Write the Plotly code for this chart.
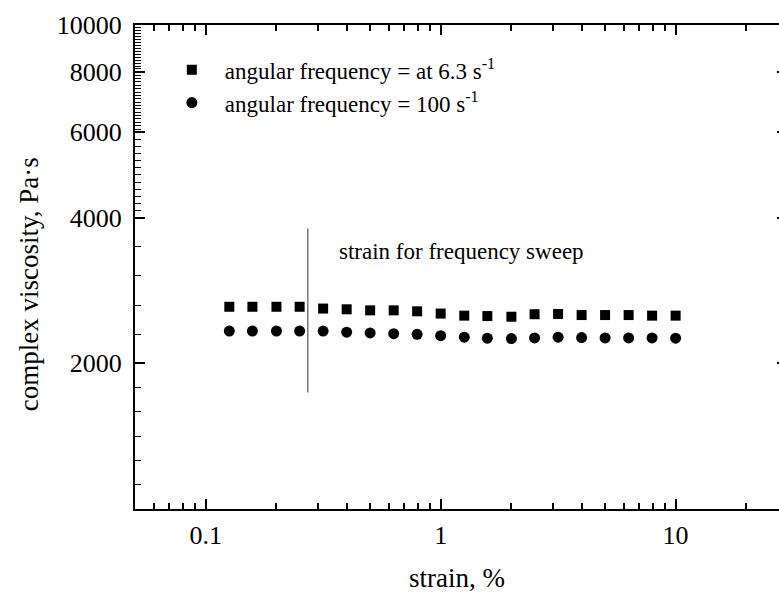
import plotly.graph_objects as go
import math

# ---- data ----
strain = [0.126, 0.158, 0.2, 0.251, 0.316, 0.398, 0.501, 0.631, 0.794, 1.0,
          1.26, 1.58, 2.0, 2.51, 3.16, 3.98, 5.01, 6.31, 7.94, 10.0]
visc_63 = [2617, 2617, 2617, 2617, 2595, 2586, 2573, 2573, 2561, 2534,
           2509, 2504, 2496, 2526, 2529, 2516, 2516, 2516, 2509, 2509]
visc_100 = [2331, 2331, 2331, 2331, 2331, 2319, 2311, 2303, 2296, 2281,
            2265, 2254, 2250, 2257, 2265, 2261, 2257, 2257, 2257, 2254]
sweep_x = [0.272, 0.272]
sweep_y = [1740, 3800]
names = ["angular frequency = at 6.3 s<sup>-1</sup>", "angular frequency = 100 s<sup>-1</sup>"]
x_ticks = [0.1, 1, 10]
x_tick_text = ["0.1", "1", "10"]
x_minor = [0.06, 0.07, 0.08, 0.09, 0.2, 0.3, 0.4, 0.5, 0.6, 0.7, 0.8, 0.9,
           2, 3, 4, 5, 6, 7, 8, 9, 20]
y_ticks = [2000, 4000, 6000, 8000, 10000]
y_tick_text = ["2000", "4000", "6000", "8000", "10000"]
# minor tick subdivisions between (lower, upper) majors: number of intervals
y_minor_bands = [(1000, 2000, 6), (2000, 4000, 5), (4000, 6000, 12),
                 (6000, 8000, 18), (8000, 10000, 16)]
annot_text = "strain for frequency sweep"
y_title = "complex viscosity, Pa\u00b7s"
x_title = "strain, %"

y_minor = []
for lo, hi, n in y_minor_bands:
    step = (math.log10(hi) - math.log10(lo)) / n
    y_minor += [10 ** (math.log10(lo) + k * step) for k in range(1, n)]

FONT = "Liberation Serif"

fig = go.Figure()
fig.add_trace(go.Scatter(x=strain, y=visc_63, mode="markers", name=names[0],
                         marker=dict(symbol="square", size=10, color="black")))
fig.add_trace(go.Scatter(x=strain, y=visc_100, mode="markers", name=names[1],
                         marker=dict(symbol="circle", size=11, color="black")))
fig.add_trace(go.Scatter(x=sweep_x, y=sweep_y, mode="lines", showlegend=False,
                         line=dict(color="#555555", width=1.2)))
# invisible trace so the right-hand tick axis is drawn
fig.add_trace(go.Scatter(x=sweep_x, y=sweep_y, mode="lines", showlegend=False,
                         yaxis="y2", hoverinfo="skip",
                         line=dict(color="rgba(0,0,0,0)", width=0)))

fig.add_annotation(x=math.log10(0.362), y=math.log10(3400), text=annot_text,
                   showarrow=False, xanchor="left", yanchor="middle",
                   font=dict(family=FONT, size=23, color="black"))

# y axis title as annotation (offset like the reference)
fig.add_annotation(xref="paper", yref="paper", x=-0.164, y=0.465, text=y_title,
                   textangle=-90, showarrow=False, xanchor="center", yanchor="middle",
                   font=dict(family=FONT, size=27, color="black"))

axis_common = dict(showgrid=False, zeroline=False, showline=True, linecolor="black",
                   linewidth=2, ticks="inside", tickcolor="black", tickwidth=1.5,
                   tickfont=dict(family=FONT, size=26, color="black"))

fig.update_xaxes(type="log", range=[math.log10(0.05), 1.44], tickmode="array",
                 tickvals=x_ticks, ticktext=x_tick_text, ticklen=10, mirror="ticks",
                 ticklabelstandoff=2,
                 minor=dict(tickmode="array", tickvals=x_minor, ticks="inside",
                            ticklen=6, tickcolor="black", tickwidth=1.5),
                 title=dict(text=x_title, font=dict(family=FONT, size=27, color="black"),
                            standoff=20),
                 **axis_common)
fig.update_yaxes(type="log", range=[3, 4], tickmode="array",
                 tickvals=y_ticks, ticktext=y_tick_text, ticklen=10, mirror=False,
                 ticklabelstandoff=6,
                 minor=dict(tickmode="array", tickvals=y_minor, ticks="inside",
                            ticklen=6, tickcolor="black", tickwidth=1.2),
                 **axis_common)

fig.update_layout(
    width=779, height=593,
    margin=dict(l=135, r=0, t=25, b=84),
    paper_bgcolor="white", plot_bgcolor="white",
    font=dict(family=FONT, color="black"),
    showlegend=True,
    yaxis2=dict(type="log", range=[3, 4], overlaying="y", side="right", anchor="x",
                tickmode="array", tickvals=y_ticks, showticklabels=False,
                ticks="inside", ticklen=2, tickwidth=1.5, tickcolor="black",
                showline=False, showgrid=False, zeroline=False),
    legend=dict(x=0.037, y=0.952, xanchor="left", yanchor="top",
                bgcolor="rgba(0,0,0,0)", font=dict(family=FONT, size=23, color="black"),
                tracegroupgap=0, itemwidth=56),
)

fig.write_html("out.html")
